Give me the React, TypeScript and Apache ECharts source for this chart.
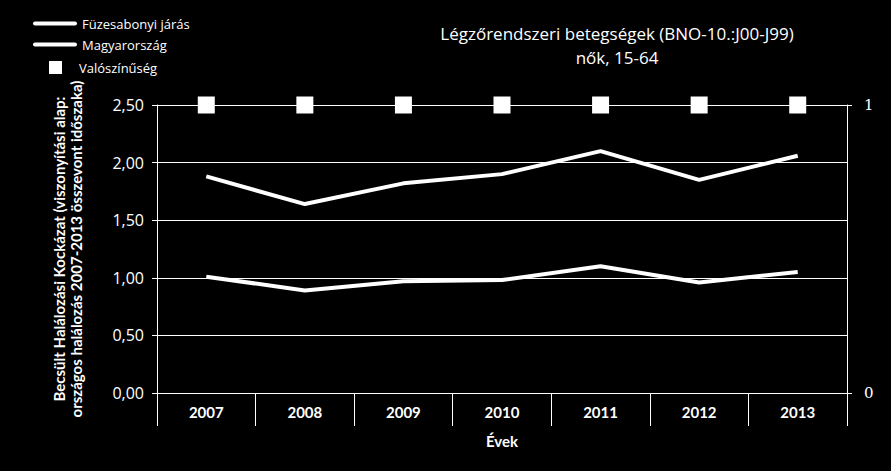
import React, { useEffect, useRef } from "react";
import * as echarts from "echarts";

const years = ["2007", "2008", "2009", "2010", "2011", "2012", "2013"];
const fuzesabony = [1.88, 1.64, 1.82, 1.9, 2.1, 1.85, 2.06];
const magyarorszag = [1.01, 0.89, 0.97, 0.98, 1.1, 0.96, 1.05];
const valoszinuseg = [1, 1, 1, 1, 1, 1, 1];
const titleText = "Légzőrendszeri betegségek (BNO-10.:J00-J99)\nnők, 15-64";
const yName = "Becsült Halálozási Kockázat (viszonyítási alap:\nországos halálozás 2007-2013 összevont időszaka)";
const xName = "Évek";

export default function App() {
  const ref = useRef<HTMLDivElement>(null);
  useEffect(() => {
    if (!ref.current) return;
    const chart = echarts.init(ref.current, null, { renderer: "svg" });
    const white = "#ffffff";
    const lineIcon = "path://M2,0 L42,0 A2,2 0 0 1 42,4 L2,4 A2,2 0 0 1 2,0 Z";
    chart.setOption({
      animation: false,
      backgroundColor: "#000000",
      title: {
        text: titleText,
        left: 612,
        top: 16,
        textAlign: "center",
        textStyle: { color: white, fontFamily: "Open Sans", fontSize: 17, fontWeight: "normal", lineHeight: 24 },
      },
      legend: [
        {
          data: [
            { name: "Füzesabonyi járás", icon: lineIcon },
            { name: "Magyarország", icon: lineIcon },
          ],
          orient: "vertical",
          left: 28,
          top: 12,
          itemWidth: 44,
          itemHeight: 14,
          itemGap: 8,
          textStyle: { color: white, fontFamily: "Open Sans", fontSize: 13 },
        },
        {
          data: [{ name: "Valószínűség", icon: "rect" }],
          orient: "vertical",
          left: 44,
          top: 56,
          itemWidth: 13,
          itemHeight: 13,
          textStyle: { color: white, fontFamily: "Open Sans", fontSize: 13, padding: [0, 0, 0, 12] },
        },
      ],
      grid: { left: 157, right: 44, top: 105, bottom: 78 },
      xAxis: {
        type: "category",
        data: years,
        boundaryGap: true,
        name: xName,
        nameLocation: "middle",
        nameGap: 40,
        nameTextStyle: { color: white, fontFamily: "Lato", fontWeight: "bold", fontSize: 15 },
        axisLine: { show: true, lineStyle: { color: white, width: 1 } },
        axisTick: { show: true, interval: 0, length: 33, lineStyle: { color: white } },
        axisLabel: { color: white, fontFamily: "Lato", fontWeight: "bold", fontSize: 15, margin: 11, interval: 0 },
      },
      yAxis: [
        {
          type: "value",
          min: 0,
          max: 2.5,
          interval: 0.5,
          name: yName,
          nameLocation: "middle",
          nameRotate: 90,
          nameGap: 73,
          nameTextStyle: { color: white, fontFamily: "Lato", fontWeight: "bold", fontSize: 15, lineHeight: 17 },
          axisLine: { show: true, lineStyle: { color: white } },
          axisTick: { show: true, length: 5, lineStyle: { color: white } },
          splitLine: { show: true, lineStyle: { color: white, width: 1 } },
          axisLabel: {
            color: white,
            fontFamily: "Open Sans",
            fontSize: 16,
            margin: 13,
            formatter: (v: number) => v.toFixed(2).replace(".", ","),
          },
        },
        {
          type: "value",
          min: 0,
          max: 1,
          interval: 1,
          position: "right",
          axisLine: { show: true, lineStyle: { color: white } },
          axisTick: { show: true, length: 5, lineStyle: { color: white } },
          splitLine: { show: false },
          axisLabel: { color: white, fontFamily: "DejaVu Serif", fontSize: 15, margin: 17 },
        },
      ],
      series: [
        {
          name: "Füzesabonyi járás",
          type: "line",
          data: fuzesabony,
          symbol: "none",
          color: white,
          lineStyle: { color: white, width: 4 },
        },
        {
          name: "Magyarország",
          type: "line",
          data: magyarorszag,
          symbol: "none",
          color: white,
          lineStyle: { color: white, width: 4 },
        },
        {
          name: "Valószínűség",
          type: "scatter",
          yAxisIndex: 1,
          data: valoszinuseg,
          symbol: "rect",
          symbolSize: 17,
          itemStyle: { color: white, opacity: 1 },
          z: 5,
        },
      ],
    });
    return () => chart.dispose();
  }, []);
  return <div ref={ref} style={{ width: 891, height: 471, position: "absolute", left: 0, top: 0 }} />;
}
